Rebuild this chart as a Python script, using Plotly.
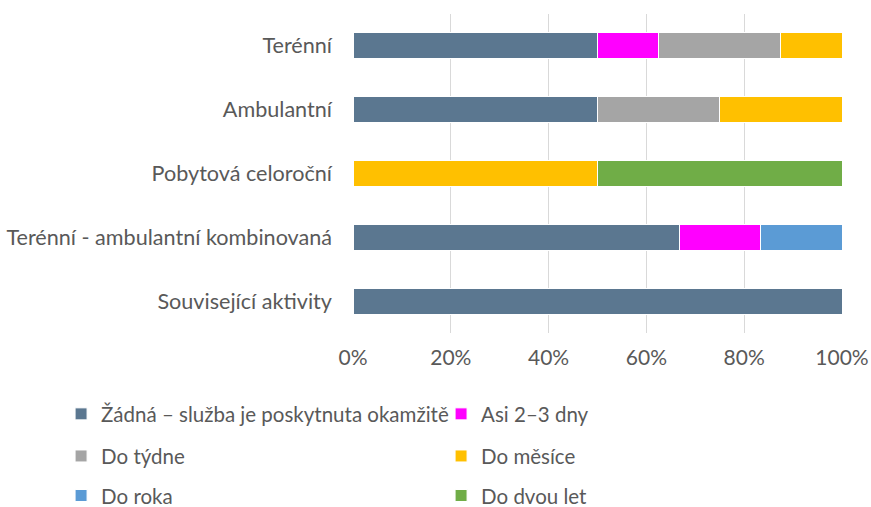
import plotly.graph_objects as go

# Service types (top to bottom) and waiting-time shares in percent
categories = [
    "Terénní",
    "Ambulantní",
    "Pobytová celoroční",
    "Terénní - ambulantní kombinovaná",
    "Související aktivity",
]

series_names = [
    "Žádná – služba je poskytnuta okamžitě",
    "Asi 2–3 dny",
    "Do týdne",
    "Do měsíce",
    "Do roka",
    "Do dvou let",
]

zadna = [50.0, 50.0, 0.0, 66.67, 100.0]
dny_2_3 = [12.5, 0.0, 0.0, 16.67, 0.0]
do_tydne = [25.0, 25.0, 0.0, 0.0, 0.0]
do_mesice = [12.5, 25.0, 50.0, 0.0, 0.0]
do_roka = [0.0, 0.0, 0.0, 16.66, 0.0]
do_dvou_let = [0.0, 0.0, 50.0, 0.0, 0.0]

values = [zadna, dny_2_3, do_tydne, do_mesice, do_roka, do_dvou_let]
colors = ["#5B7790", "#FF00FF", "#A5A5A5", "#FFC000", "#5B9BD5", "#70AD47"]
# two legend entries per row, one legend object per row
legend_ids = ["legend", "legend", "legend2", "legend2", "legend3", "legend3"]

tick_vals = [0, 20, 40, 60, 80, 100]
tick_text = ["0%", "20%", "40%", "60%", "80%", "100%"]

FONT = "Lato, Carlito, Calibri, sans-serif"
FONT_SIZE = 21
TEXT_COLOR = "#595959"

fig = go.Figure()
for name, vals, col, lg in zip(series_names, values, colors, legend_ids):
    fig.add_trace(
        go.Bar(
            y=categories,
            x=vals,
            name=name,
            orientation="h",
            marker=dict(color=col, line=dict(color="white", width=1)),
            legend=lg,
            hovertemplate="%{y}: %{x:.1f}%<extra>" + name + "</extra>",
        )
    )

legend_common = dict(
    orientation="h",
    xref="paper",
    yref="paper",
    x=-0.597,
    xanchor="left",
    yanchor="middle",
    entrywidth=335,
    entrywidthmode="pixels",
    font=dict(family=FONT, size=20.5, color=TEXT_COLOR),
    bgcolor="rgba(0,0,0,0)",
    traceorder="normal",
)

fig.update_layout(
    width=871,
    height=507,
    margin=dict(l=353, r=29, t=14, b=174, autoexpand=False),
    paper_bgcolor="white",
    plot_bgcolor="white",
    barmode="stack",
    bargap=0.59,
    font=dict(family=FONT, size=FONT_SIZE, color=TEXT_COLOR),
    xaxis=dict(
        range=[0, 100],
        tickvals=tick_vals,
        ticktext=tick_text,
        showgrid=True,
        gridcolor="#D9D9D9",
        gridwidth=1,
        zeroline=False,
        showline=False,
        ticks="",
        ticklabelstandoff=10,
        automargin=False,
        tickfont=dict(family=FONT, size=FONT_SIZE, color=TEXT_COLOR),
        fixedrange=True,
    ),
    yaxis=dict(
        categoryorder="array",
        categoryarray=categories,
        autorange="reversed",
        showgrid=False,
        zeroline=False,
        showline=False,
        ticks="",
        ticklabelstandoff=20,
        automargin=False,
        tickfont=dict(family=FONT, size=21.6, color=TEXT_COLOR),
        fixedrange=True,
    ),
    legend=dict(legend_common, y=-0.254),
    legend2=dict(legend_common, y=-0.386),
    legend3=dict(legend_common, y=-0.51),
    showlegend=True,
)

fig.write_html("out.html")
